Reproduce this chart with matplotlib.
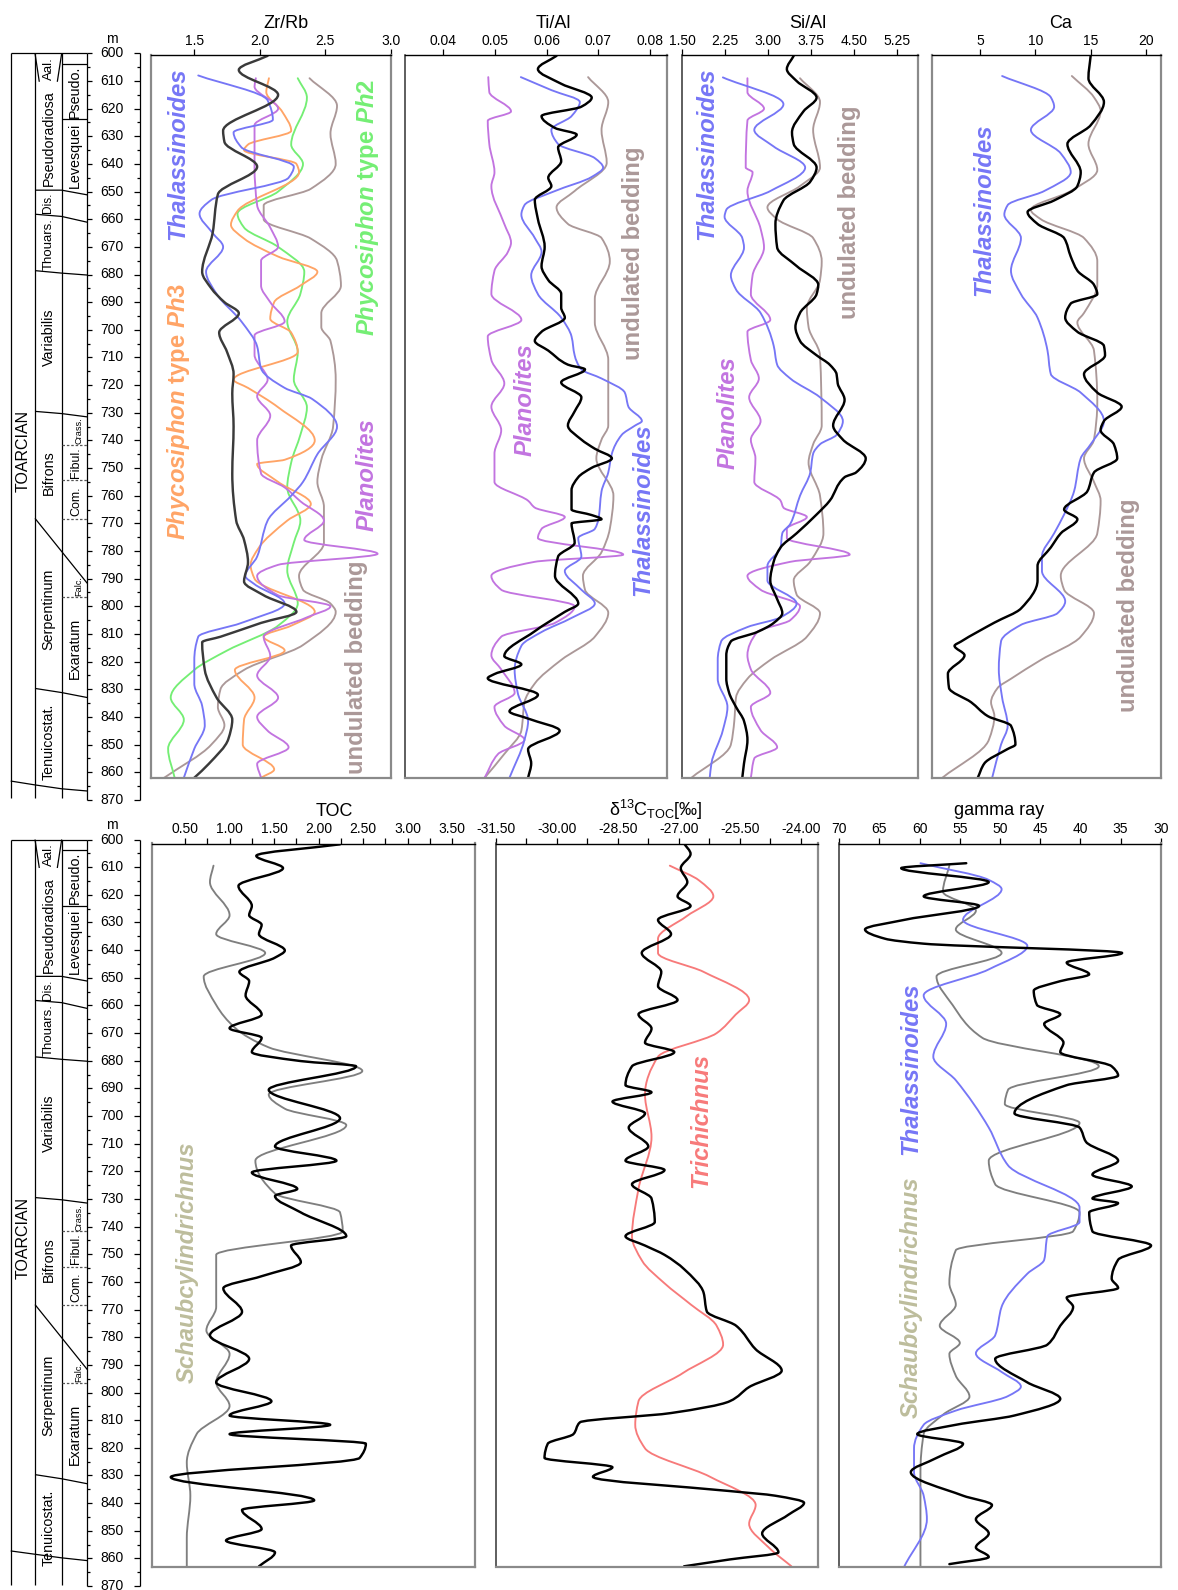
import matplotlib
matplotlib.use('Agg')
import matplotlib.pyplot as plt
from matplotlib.path import Path
from matplotlib.patches import PathPatch
import numpy as np

plt.rcParams['font.family'] = ['Liberation Sans', 'DejaVu Sans']
plt.rcParams['axes.unicode_minus'] = False
plt.rcParams['mathtext.fontset'] = 'custom'
plt.rcParams['mathtext.rm'] = 'Liberation Sans'
plt.rcParams['mathtext.it'] = 'Liberation Sans:italic:bold'
plt.rcParams['mathtext.bf'] = 'Liberation Sans:bold'
plt.rcParams['mathtext.default'] = 'regular'

# ---------------- stratigraphy ----------------
depth_ticks = list(range(600, 871, 10))
col2_names = ['Aal.', 'Pseudoradiosa', 'Dis.', 'Thouars.', 'Variabilis', 'Bifrons', 'Serpentinum', 'Tenuicostat.']
col2_mid = [605.4, 630.8, 654.2, 669.0, 702.6, 751.8, 801.0, 849.0]
col3_names = ['Pseudo.', 'Levesquei', 'Crass.', 'Fibul.', 'Com.', 'Falc.', 'Exaratum']
col3_mid = [613.8, 637.0, 736.6, 748.0, 762.0, 792.5, 815.1]
stage_name = 'TOARCIAN'
stage_mid = 744.0
bounds_solid = [[649.5, 649.5, 651.2], [658.2, 659.0, 661.1], [678.6, 679.5, 680.2],
                [729.5, 730.3, 731.5], [829.7, 831.2, 833.0]]
bounds_col3 = [603.9, 623.9]
bounds_dashed = [741.5, 754.5, 768.5, 796.5]
diag_bound = [768.2, 791.7]
bottom_top_row = [863.2, 864.6, 866.0, 866.8]
bottom_bot_row = [857.3, 858.5, 859.8, 860.8]

# ---------------- Zr/Rb ----------------
zr_core_d = [600.9, 606, 615, 628, 632, 641, 651, 665, 679, 685, 690, 694, 701, 708, 716, 723, 735, 752, 769, 776, 784, 791, 796, 802, 806, 811, 813, 823, 833, 841, 848, 857, 862]
zr_core_v = [2.06, 1.84, 2.14, 1.72, 1.73, 1.98, 1.68, 1.64, 1.56, 1.63, 1.73, 1.84, 1.69, 1.75, 1.80, 1.79, 1.80, 1.79, 1.82, 1.88, 1.91, 1.88, 2.03, 2.28, 2.01, 1.70, 1.56, 1.58, 1.67, 1.79, 1.76, 1.61, 1.50]
zr_thal_d = [608, 617, 624, 628.6, 634, 641, 645, 653, 658, 665, 670, 679, 687, 697, 706, 714, 721, 725, 735, 745, 755, 760, 769, 782, 789, 792, 799, 806, 811, 819.5, 828, 836, 843, 851.5, 862]
zr_thal_v = [1.53, 2.06, 2.10, 1.80, 1.86, 2.26, 2.22, 1.63, 1.54, 1.64, 1.72, 1.59, 1.67, 1.86, 1.98, 2.01, 2.19, 2.40, 2.59, 2.44, 2.33, 2.24, 2.06, 1.98, 1.89, 1.96, 2.19, 1.86, 1.53, 1.50, 1.50, 1.56, 1.58, 1.50, 1.42]
zr_ph3_d = [609, 614, 621, 628, 633, 635, 640, 643, 657, 662, 667, 673.5, 679, 684, 690, 696, 701, 708, 718, 721, 728, 740, 747, 748.5, 755, 763, 769, 779, 785, 790, 802, 807, 811, 816, 823, 833, 841, 850, 859, 862]
zr_ph3_v = [2.07, 2.05, 2.17, 2.24, 1.91, 1.88, 2.28, 2.30, 1.83, 1.78, 1.88, 2.14, 2.44, 2.31, 2.11, 2.08, 2.24, 2.29, 1.80, 1.91, 2.14, 2.42, 2.19, 1.98, 2.14, 2.39, 2.21, 1.99, 1.93, 1.96, 2.42, 2.24, 2.03, 2.19, 1.81, 1.96, 1.88, 1.87, 2.11, 2.01]
zr_ph2_d = [609, 616, 633, 640, 650, 658, 663, 670, 679, 687, 697, 708, 718, 728, 738, 748, 757, 769, 777, 787, 799, 807, 816, 823, 833, 841, 851.5, 862]
zr_ph2_v = [2.29, 2.36, 2.24, 2.33, 2.14, 1.83, 1.88, 2.14, 2.34, 2.31, 2.21, 2.29, 2.26, 2.36, 2.31, 2.24, 2.21, 2.31, 2.26, 2.21, 2.29, 2.14, 1.75, 1.50, 1.32, 1.42, 1.30, 1.35]
zr_plan_d = [609, 612, 620, 626, 641, 655, 663, 670, 675, 684, 690, 697, 702, 709, 718, 724, 731, 740, 752, 757, 762, 769, 776, 781, 785, 789, 796, 800, 804, 811, 818, 825, 833, 840, 845, 851, 857, 862]
zr_plan_v = [1.97, 1.96, 2.14, 1.96, 1.96, 1.98, 2.08, 2.14, 2.01, 2.01, 2.08, 2.19, 1.96, 1.96, 2.06, 1.98, 2.08, 1.98, 2.01, 2.19, 2.31, 2.49, 2.34, 2.90, 2.14, 1.98, 2.14, 2.54, 2.36, 2.03, 2.08, 1.98, 2.14, 1.98, 2.06, 2.22, 1.98, 2.01]
zr_und_d = [609, 619, 629, 640, 649, 655, 660, 667, 675, 684, 694, 699, 704, 718, 735, 747, 755, 764, 777, 789, 794, 799, 802, 814, 823, 830, 836.4, 843, 850, 862]
zr_und_v = [2.38, 2.59, 2.54, 2.58, 2.39, 2.03, 2.03, 2.39, 2.59, 2.62, 2.47, 2.47, 2.54, 2.58, 2.56, 2.47, 2.44, 2.49, 2.49, 2.30, 2.33, 2.54, 2.58, 2.33, 1.88, 1.70, 1.68, 1.73, 1.63, 1.27]

# ---------------- Ti/Al ----------------
ti_core_d = [600.9, 605.7, 611, 616, 619.3, 622.7, 627, 629.4, 634, 639, 645, 648, 653, 660, 670, 677, 682, 687, 692, 695.6, 700.7, 704, 707.5, 712.6, 714.3, 719, 724.4, 729.5, 734.6, 739.7, 743, 746.5, 749.9, 753.3, 758, 765, 767, 768.5, 770, 777, 782, 789, 799, 802, 809, 818, 821, 824.5, 826, 832, 838, 840.6, 845, 851.7, 856.8, 862]
ti_core_v = [0.0619, 0.0583, 0.0628, 0.0687, 0.0667, 0.0590, 0.0616, 0.0658, 0.0622, 0.0628, 0.0603, 0.0609, 0.0577, 0.0583, 0.0596, 0.0590, 0.0603, 0.0628, 0.0628, 0.0635, 0.0590, 0.0577, 0.0603, 0.0641, 0.0674, 0.0628, 0.0667, 0.0654, 0.0641, 0.0667, 0.0693, 0.0726, 0.0687, 0.0661, 0.0648, 0.0648, 0.0687, 0.0706, 0.0648, 0.0654, 0.0622, 0.0616, 0.0661, 0.0635, 0.0577, 0.0518, 0.0551, 0.0499, 0.0486, 0.0583, 0.0528, 0.0564, 0.0625, 0.0564, 0.0570, 0.0564]
ti_thal_d = [608.6, 613.3, 617.6, 622.7, 627.7, 632.8, 637.9, 641.3, 644.7, 649.8, 654.9, 658.3, 666.8, 671.8, 680.3, 687.1, 695.6, 702.4, 709.2, 714.3, 717.6, 722.7, 727.8, 733, 734.6, 738, 744.8, 751.6, 758.4, 768.5, 772, 775.3, 782, 787.2, 794, 799, 804.2, 809.3, 814.3, 823, 831.3, 841.5, 848.3, 862]
ti_thal_v = [0.0550, 0.0609, 0.0664, 0.0648, 0.0609, 0.0622, 0.0693, 0.0709, 0.0687, 0.0616, 0.0557, 0.0551, 0.0577, 0.0590, 0.0570, 0.0583, 0.0628, 0.0648, 0.0654, 0.0667, 0.0706, 0.0751, 0.0758, 0.0784, 0.0771, 0.0745, 0.0726, 0.0719, 0.0706, 0.0700, 0.0693, 0.0661, 0.0667, 0.0635, 0.0667, 0.0693, 0.0648, 0.0590, 0.0551, 0.0538, 0.0544, 0.0564, 0.0557, 0.0528]
ti_plan_d = [608.6, 614, 621, 624.4, 632.8, 643, 648, 661.7, 668.5, 671.8, 678.6, 687, 696.4, 702.4, 710.9, 719.4, 727.8, 736.3, 744.8, 755, 761.8, 764.3, 767.7, 772, 775.3, 781.3, 783.9, 789, 794, 800, 806, 811, 817.7, 822.8, 831.3, 836.4, 843.2, 848.3, 853.4, 862]
ti_plan_v = [0.0487, 0.0489, 0.0531, 0.0486, 0.0489, 0.0499, 0.0493, 0.0518, 0.0531, 0.0525, 0.0499, 0.0493, 0.0551, 0.0486, 0.0493, 0.0518, 0.0493, 0.0512, 0.0499, 0.0499, 0.0564, 0.0577, 0.0635, 0.0590, 0.0583, 0.0748, 0.0577, 0.0493, 0.0512, 0.0654, 0.0616, 0.0512, 0.0493, 0.0512, 0.0538, 0.0499, 0.0518, 0.0557, 0.0506, 0.0480]
ti_und_d = [608.6, 617.6, 627.7, 639.6, 649.8, 655.7, 661.7, 666.8, 675.2, 688.8, 697.3, 710.9, 734.6, 739.7, 746.5, 760, 772, 780.4, 789, 794, 802.3, 811, 819.4, 827.9, 834.7, 844.9, 853.4, 862]
ti_und_v = [0.0680, 0.0719, 0.0706, 0.0716, 0.0654, 0.0619, 0.0641, 0.0706, 0.0722, 0.0693, 0.0693, 0.0719, 0.0719, 0.0706, 0.0696, 0.0729, 0.0722, 0.0706, 0.0670, 0.0674, 0.0719, 0.0693, 0.0628, 0.0577, 0.0557, 0.0551, 0.0518, 0.0480]

# ---------------- Si/Al ----------------
si_core_d = [600.9, 605.7, 610, 616, 621, 628.6, 632.8, 641.3, 646.4, 653.2, 661.7, 670.2, 676.9, 683.7, 687.1, 693.9, 699, 704, 709.2, 712.6, 716, 719.4, 725.3, 734.6, 739.7, 746.5, 751.6, 753.3, 761.8, 766.8, 773.6, 778.7, 783.8, 790.6, 797.4, 802.5, 806, 809.3, 812.7, 817.7, 826.2, 831.3, 836.4, 841.5, 848.3, 856.8, 862]
si_core_v = [3.45, 3.33, 3.50, 3.85, 3.62, 3.42, 3.45, 3.85, 3.74, 3.27, 3.13, 3.16, 3.50, 3.88, 3.85, 3.56, 3.48, 3.56, 3.85, 4.08, 4.20, 4.22, 4.34, 4.14, 4.31, 4.71, 4.54, 4.34, 4.08, 3.85, 3.50, 3.22, 3.10, 3.04, 3.16, 3.25, 3.10, 2.81, 2.35, 2.27, 2.27, 2.32, 2.44, 2.58, 2.64, 2.58, 2.55]
si_thal_d = [608.7, 618.4, 627.7, 633.7, 641.3, 649.8, 656.6, 659.1, 666.8, 670.2, 680.3, 685.4, 693.9, 705.8, 712.6, 717.6, 724.4, 733, 738, 741.4, 744.8, 751.6, 760, 770.2, 773.6, 778.7, 785.4, 790.6, 799, 804, 807.5, 812.7, 819.4, 826.2, 836.4, 844.8, 856.8, 862]
si_thal_v = [2.21, 3.27, 2.76, 3.10, 3.65, 3.04, 2.27, 2.24, 2.55, 2.58, 2.35, 2.44, 2.87, 3.10, 3.16, 3.39, 3.91, 4.31, 4.20, 3.91, 3.79, 3.74, 3.56, 3.39, 3.25, 3.22, 2.99, 2.99, 3.50, 3.22, 2.64, 2.18, 2.12, 2.12, 2.29, 2.21, 2.01, 1.98]
si_plan_d = [609, 614, 620, 624.3, 641.3, 643, 649.8, 663.4, 670.2, 680.3, 687.1, 696.4, 700.7, 710.9, 717.6, 724.4, 733, 739.7, 746.5, 755, 761.8, 764.3, 767.7, 772, 775.3, 781.3, 783.9, 789, 794, 800, 805, 809.3, 817.7, 822.8, 831.3, 836.4, 844.8, 851, 855, 862]
si_plan_v = [2.64, 2.64, 2.93, 2.64, 2.61, 2.73, 2.64, 2.87, 2.93, 2.73, 2.70, 3.04, 2.64, 2.70, 2.84, 2.67, 2.87, 2.70, 2.78, 2.76, 3.22, 3.27, 3.68, 3.33, 3.33, 4.43, 3.39, 2.64, 2.87, 3.56, 3.39, 2.81, 2.64, 2.70, 3.04, 2.70, 2.87, 3.16, 2.76, 2.70]
si_und_d = [609, 617.6, 627.7, 641.3, 648, 655.7, 660, 666.8, 675.2, 682, 692.2, 699, 709.2, 734.6, 741.4, 748, 760, 773.6, 783.8, 790.6, 795.7, 802.5, 811, 819.4, 826.2, 833, 841.5, 850, 862]
si_und_v = [3.56, 3.91, 3.79, 3.91, 3.56, 2.99, 3.16, 3.79, 3.94, 3.91, 3.68, 3.71, 3.91, 3.94, 3.79, 3.71, 3.91, 3.97, 3.74, 3.45, 3.50, 3.91, 3.68, 3.04, 2.64, 2.44, 2.41, 2.35, 1.66]

# ---------------- Ca ----------------
ca_core_d = [600.9, 609, 617.6, 626, 632.8, 643, 648, 653.2, 657.4, 661.7, 666.8, 673.5, 678.6, 683.7, 687.1, 690.5, 695.6, 700.7, 705.8, 709.2, 716, 722.7, 727.8, 733, 736.3, 741.4, 746.5, 751.6, 758.4, 765, 768.5, 773.6, 778.7, 785.4, 790.6, 800.8, 805.9, 812.7, 814.3, 817.7, 824.4, 829.5, 834.7, 839.7, 843.2, 850, 851.6, 856.8, 862]
ca_core_v = [15.0, 14.8, 16.2, 15.0, 12.9, 14.1, 13.8, 11.7, 9.3, 10.2, 12.6, 13.2, 13.8, 15.3, 15.6, 13.2, 12.7, 13.8, 16.2, 16.3, 14.4, 15.6, 17.8, 16.2, 15.9, 17.1, 17.4, 15.3, 14.7, 12.6, 13.8, 12.3, 11.4, 10.2, 10.2, 8.7, 6.3, 3.3, 2.7, 3.6, 2.1, 2.2, 4.2, 5.7, 7.8, 8.2, 7.5, 5.4, 4.8]
ca_thal_d = [608.2, 615.9, 619.3, 627.7, 636.2, 643, 649.8, 654.9, 658.3, 666.8, 678.6, 687.1, 695.6, 707.5, 716, 722.7, 733, 741.4, 746.5, 758.4, 766.8, 773.6, 782, 787.2, 798.2, 802.5, 806.7, 812.7, 822.8, 833, 843.2, 850, 862]
ca_thal_v = [7.0, 11.4, 11.7, 9.6, 12.3, 13.2, 10.8, 7.5, 7.2, 8.7, 7.8, 8.7, 10.2, 11.1, 11.4, 14.1, 16.2, 15.0, 14.1, 13.5, 12.6, 11.7, 10.6, 10.6, 12.7, 12.0, 8.7, 6.9, 6.7, 7.0, 7.5, 6.9, 6.1]
ca_und_d = [608.2, 615.9, 620.9, 632.8, 642.2, 649.8, 656.6, 660, 666.8, 675.2, 683.7, 693.9, 697.3, 707.5, 726.1, 739.7, 746.5, 755, 761.8, 773.6, 788.9, 794, 802.5, 811, 819.4, 826.2, 829.5, 834.7, 839.7, 848.3, 862]
ca_und_v = [13.3, 15.3, 15.9, 14.8, 15.6, 13.2, 9.6, 10.5, 14.4, 15.6, 15.6, 14.4, 13.8, 15.3, 15.6, 15.3, 14.4, 15.3, 15.9, 15.6, 12.3, 12.6, 15.3, 14.1, 10.5, 7.8, 6.6, 6.0, 6.3, 5.8, 1.6]

# ---------------- TOC ----------------
toc_core_d = [601.8, 606, 610.5, 617, 624.3, 627.7, 631.2, 634.6, 640.6, 643.2, 648.4, 651.8, 657, 664, 669, 672.5, 677.7, 681, 682.9, 691.5, 701.9, 712.2, 717.4, 721.7, 727.7, 730.3, 736.3, 745, 748.4, 754.5, 759.6, 764, 772.6, 781.2, 789.8, 798.4, 805.3, 810.5, 813.9, 817.3, 820.8, 826, 833, 841.5, 845, 852, 856.2, 860.5, 865.6]
toc_core_v = [2.24, 1.30, 1.60, 1.10, 1.25, 1.22, 1.36, 1.33, 1.62, 1.51, 1.11, 1.22, 1.18, 1.36, 1.00, 1.36, 1.25, 1.80, 2.42, 1.44, 2.24, 1.51, 2.20, 1.25, 1.76, 1.51, 1.80, 2.31, 1.69, 1.80, 1.36, 0.93, 1.14, 0.78, 1.22, 0.85, 1.47, 1.00, 2.13, 1.00, 2.53, 2.46, 0.34, 1.95, 1.14, 1.36, 0.96, 1.51, 1.33]
toc_schau_d = [609.6, 615.6, 627.7, 634.6, 641.5, 650.1, 660.5, 669.1, 676, 684.6, 693.2, 698.4, 704.4, 717.4, 729.4, 736.3, 743.2, 751.8, 770.8, 779.4, 788, 798.4, 807, 817.3, 827.7, 839.8, 855.3, 865.6]
toc_schau_v = [0.82, 0.78, 1.00, 0.85, 1.40, 0.71, 0.85, 1.07, 1.44, 2.49, 1.44, 1.62, 2.31, 1.29, 1.51, 2.24, 2.27, 0.85, 0.85, 0.74, 1.00, 0.85, 1.00, 0.63, 0.52, 0.56, 0.52, 0.52]

# ---------------- d13C ----------------
d13_core_d = [601.5, 605.3, 610.5, 615.6, 620.8, 624.3, 629.4, 634.6, 641.5, 648.4, 653.6, 658.7, 663.9, 669.1, 674.3, 677.7, 682.9, 689.8, 692.4, 695.8, 700.1, 705.3, 712.2, 717.4, 720.8, 726, 731.2, 739.8, 745, 748.4, 751.8, 757, 765.6, 772.5, 777.7, 786.3, 794.1, 800.1, 805.3, 809.6, 813, 817.3, 820.8, 826, 829.4, 832.9, 838.1, 839.8, 842.4, 846.8, 853.6, 860.5, 863.1, 865.6]
d13_core_v = [-26.87, -26.71, -26.95, -26.79, -27.03, -26.71, -27.51, -27.19, -27.91, -27.43, -27.51, -27.03, -27.99, -27.67, -27.83, -27.11, -28.15, -28.31, -27.67, -28.63, -27.83, -28.23, -27.75, -28.31, -27.35, -28.15, -27.67, -27.59, -28.31, -27.83, -27.35, -26.87, -26.39, -26.31, -25.59, -25.11, -24.47, -25.27, -25.75, -27.19, -29.43, -29.59, -30.22, -30.30, -28.63, -29.11, -25.75, -24.63, -23.92, -24.31, -24.95, -24.55, -25.75, -26.87]
d13_trich_d = [609.6, 615, 620.8, 628, 636.3, 641.5, 648.4, 658.7, 664, 670.8, 679.4, 693.2, 708.7, 727.7, 745, 754, 762.2, 770, 777.7, 784.6, 795, 805.3, 813.9, 822.5, 832.9, 843.2, 850.1, 858.7, 865.6]
d13_trich_v = [-27.22, -26.50, -26.15, -26.80, -27.51, -27.51, -26.39, -25.27, -25.60, -26.07, -27.51, -27.83, -27.67, -27.99, -28.15, -27.90, -27.35, -26.70, -26.07, -25.91, -26.90, -27.99, -28.07, -27.83, -26.23, -25.11, -25.27, -24.79, -24.23]

# ---------------- gamma ray ----------------
gr_core_d = [608.7, 610.5, 615.6, 620.8, 624.3, 629.4, 632.9, 636.3, 638.1, 641.5, 645, 649.3, 651.8, 655.3, 660.5, 663.9, 667.4, 674.3, 677.7, 682.9, 686.3, 689.8, 700.1, 705.3, 710.5, 717.4, 722.5, 726.8, 731.2, 732.9, 736.3, 743.2, 748.4, 753.6, 760.5, 763.9, 767.4, 770.8, 777.7, 784.6, 789.8, 798.4, 804.4, 810.5, 813.9, 817.3, 820.8, 826, 831.2, 839.8, 843.2, 848.4, 853.6, 858.7, 862.2, 864.8]
gr_core_v = [54.2, 62.3, 51.4, 59.5, 52.6, 61.9, 66.8, 64.3, 59.5, 34.8, 41.7, 38.9, 42.5, 45.8, 45.4, 42.5, 44.5, 42.1, 42.5, 36.1, 35.3, 41.7, 48.2, 40.1, 39.3, 35.3, 38.5, 33.6, 38.5, 35.3, 38.9, 38.5, 31.2, 35.3, 36.1, 35.3, 41.7, 40.9, 42.5, 44.1, 50.6, 46.6, 42.5, 48.2, 55.5, 60.3, 54.6, 57.9, 61.1, 54.6, 51.0, 53.0, 51.4, 53.0, 51.4, 56.3]
gr_thal_d = [608.7, 614.8, 618.2, 629.4, 638.9, 647.5, 657, 667.4, 679.4, 688, 705.3, 719.1, 734.6, 739.8, 745, 753.6, 758.7, 770.8, 781.2, 787.8, 794.6, 799.9, 803.4, 808.7, 813.9, 822.5, 831.2, 839.8, 848.4, 865.6]
gr_thal_v = [59.9, 51.4, 49.8, 54.6, 46.6, 51.4, 59.5, 56.7, 58.3, 55.5, 51.4, 49.0, 40.1, 40.1, 44.1, 44.5, 46.6, 49.8, 50.6, 53.0, 49.8, 47.4, 49.0, 55.5, 59.5, 60.7, 60.7, 59.5, 59.1, 61.9]
gr_schau_d = [609.6, 619.1, 626, 632.9, 641.5, 650.1, 660.5, 672.5, 682.9, 691.5, 696.7, 703.6, 717.4, 726, 736.3, 743.2, 750.1, 762.2, 770, 777.7, 784, 788, 796, 803.6, 810, 817.3, 831.2, 865.6]
gr_schau_v = [56.3, 57.1, 53.0, 55.5, 49.8, 57.9, 55.9, 52.2, 37.7, 49.0, 49.4, 40.1, 51.4, 50.6, 40.1, 40.9, 55.5, 56.3, 55.5, 57.5, 55.0, 56.3, 55.5, 53.8, 57.0, 59.5, 59.9, 59.9]

# ---------------- styles ----------------
C_BLUE = '#7676f6'
C_ORANGE = '#ffa466'
C_GREEN = '#74ee74'
C_PURPLE = '#c274e0'
C_BROWN = '#ab9898'
C_GRAY = '#7f7f7f'
C_RED = '#f77a7a'
C_SCHAU_LBL = '#bdbd9c'
C_DARK = '#3a3a3a'
LW_K = 1.75
LW_C = 1.35
LBL_FS = 17.2

W, H = 1178, 1590
PXM = 2.765  # pixels per metre on depth columns
fig = plt.figure(figsize=(W / 100, H / 100), dpi=100)


def px_axes(x0, y0, x1, y1):
    return fig.add_axes([x0 / W, 1 - y1 / H, (x1 - x0) / W, (y1 - y0) / H])


def ftext(x, y, s, **kw):
    fig.text(x / W, 1 - y / H, s, **kw)


def smooth(ax, v, d, color, lw):
    """Draw the read points as a smooth, non-overshooting curve (monotone cubic as Bezier)."""
    v = np.asarray(v, float)
    d = np.asarray(d, float)
    h = np.diff(d)
    s = np.diff(v) / h
    m = np.empty_like(v)
    m[0], m[-1] = s[0], s[-1]
    for k in range(1, len(v) - 1):
        if s[k - 1] * s[k] <= 0:
            m[k] = 0.0
        else:
            w1 = 2 * h[k] + h[k - 1]
            w2 = h[k] + 2 * h[k - 1]
            m[k] = (w1 + w2) / (w1 / s[k - 1] + w2 / s[k])
    verts = [(v[0], d[0])]
    codes = [Path.MOVETO]
    for k in range(len(v) - 1):
        verts += [(v[k] + m[k] * h[k] / 3, d[k] + h[k] / 3),
                  (v[k + 1] - m[k + 1] * h[k] / 3, d[k + 1] - h[k] / 3),
                  (v[k + 1], d[k + 1])]
        codes += [Path.CURVE4] * 3
    ax.add_patch(PathPatch(Path(verts, codes), fill=False, edgecolor=color, lw=lw,
                           capstyle='round', joinstyle='round'))


def draw_column(y600, bottom_line):
    y870 = y600 + 270 * PXM
    ax = px_axes(0, y600, 150, y870)
    ax.set_xlim(0, 150)
    ax.set_ylim(870, 600)
    ax.axis('off')
    kw = dict(color='black', lw=0.9, clip_on=False, solid_capstyle='butt')
    xc = [10.7, 35.0, 61.7, 87.3]
    for x in xc[:3]:
        ax.plot([x, x], [600, 869.5], **kw)
    ax.plot([87.3, 87.3], [600, 870], **kw)
    ax.plot([140, 140], [600, 870], **kw)
    ax.plot([10.7, 87.3], [600, 600], **kw)
    for d in range(600, 871, 5):
        major = d % 10 == 0
        ax.plot([87.3, 87.3 + (5 if major else 3)], [d, d], **kw)
        ax.plot([140 - (6 if major else 3.3), 140], [d, d], **kw)
    for d in depth_ticks:
        ax.text(112, d, str(d), ha='center', va='center', fontsize=10, clip_on=False)
    ax.text(112, 594.9, 'm', ha='center', va='center', fontsize=10)
    ax.plot([35, 39.3], [600, 610.3], **kw)
    ax.plot([61.7, 57.3], [600, 610.3], **kw)
    for b in bounds_solid:
        ax.plot(xc[1:], b, **kw)
    for b in bounds_col3:
        ax.plot([61.7, 87.3], [b, b], **kw)
    for b in bounds_dashed:
        ax.plot([61.7, 87.3], [b, b], color='#555555', lw=0.9, ls=(0, (2, 1.5)))
    ax.plot([35, 87.3], diag_bound, **kw)
    ax.plot(xc, bottom_line, **kw)
    ax.text(22.8, stage_mid, stage_name, rotation=90, ha='center', va='center', fontsize=11.5)
    for n, m in zip(col2_names, col2_mid):
        fs = {'Dis.': 8.6, 'Thouars.': 9.5, 'Aal.': 9.5}.get(n, 10.3)
        ax.text(48.5, m, n, rotation=90, ha='center', va='center', fontsize=fs)
    for n, m in zip(col3_names, col3_mid):
        if n in ('Crass.', 'Falc.'):
            fs, xx = 6.6, 78.5
        elif n in ('Fibul.', 'Com.'):
            fs, xx = 9.0, 76.0
        else:
            fs, xx = 10.3, 74.8
        ax.text(xx, m, n, rotation=90, ha='center', va='center', fontsize=fs)
    return ax


def make_panel(x0, x1, y0, y1, xlim, ylim, major, minor, fmt, left_dark):
    ax = px_axes(x0, y0, x1, y1)
    ax.set_xlim(*xlim)
    ax.set_ylim(*ylim)
    ax.xaxis.tick_top()
    ax.set_xticks(major)
    ax.set_xticks(minor, minor=True)
    ax.set_xticklabels([fmt(t) for t in major])
    ax.tick_params(axis='x', which='both', direction='out', length=4.3, width=0.9,
                   pad=0.8, labelsize=10, top=True, bottom=False)
    ax.set_yticks([])
    ax.spines['top'].set_color('black')
    ax.spines['top'].set_linewidth(1.0)
    for s in ('left', 'right', 'bottom'):
        ax.spines[s].set_color('#8a8a8a')
        ax.spines[s].set_linewidth(1.6)
    if left_dark:
        ax.spines['left'].set_color('#333333')
        ax.spines['left'].set_linewidth(1.1)
    return ax


def lbl(ax, x, y, s, color, italic=True, fs=LBL_FS):
    ax.text(x, y, s, rotation=90, ha='center', va='center', fontsize=fs, color=color,
            fontweight='bold', fontstyle='italic' if italic else 'normal')


# ---------- top row ----------
T0, T1 = 55.0, 778.3
TOP_YLIM = (862.2, 600.6)
draw_column(53.3, bottom_top_row)

ax = make_panel(150.7, 390.7, T0, T1, (1.167, 3.0), TOP_YLIM, [1.5, 2.0, 2.5, 3.0], [],
                lambda t: f'{t:.1f}', False)
smooth(ax, zr_und_v, zr_und_d, C_BROWN, LW_C)
smooth(ax, zr_ph2_v, zr_ph2_d, C_GREEN, LW_C)
smooth(ax, zr_ph3_v, zr_ph3_d, C_ORANGE, LW_C)
smooth(ax, zr_plan_v, zr_plan_d, C_PURPLE, LW_C)
smooth(ax, zr_thal_v, zr_thal_d, C_BLUE, LW_C)
smooth(ax, zr_core_v, zr_core_d, C_DARK, LW_K)
lbl(ax, 1.376, 636.2, 'Thalassinoides', C_BLUE)
lbl(ax, 1.376, 729.4, r'$\mathit{Phycosiphon}$ type $\mathit{Ph}$3', C_ORANGE, italic=False)
lbl(ax, 2.826, 655.6, r'$\mathit{Phycosiphon}$ type $\mathit{Ph}$2', C_GREEN, italic=False)
lbl(ax, 2.816, 752.5, 'Planolites', C_PURPLE)
lbl(ax, 2.74, 822.0, 'undulated bedding', C_BROWN, italic=False)
ftext(286, 27.7, 'Zr/Rb', ha='center', va='baseline', fontsize=13)

ax = make_panel(405, 666.7, T0, T1, (0.0326, 0.0832), TOP_YLIM, [0.04, 0.05, 0.06, 0.07, 0.08], [],
                lambda t: f'{t:.2f}', True)
smooth(ax, ti_und_v, ti_und_d, C_BROWN, LW_C)
smooth(ax, ti_plan_v, ti_plan_d, C_PURPLE, LW_C)
smooth(ax, ti_thal_v, ti_thal_d, C_BLUE, LW_C)
smooth(ax, ti_core_v, ti_core_d, 'black', LW_K)
lbl(ax, 0.0558, 725.4, 'Planolites', C_PURPLE)
lbl(ax, 0.0767, 672.2, 'undulated bedding', C_BROWN, italic=False)
lbl(ax, 0.0786, 765.2, 'Thalassinoides', C_BLUE)
ftext(553, 27.7, 'Ti/Al', ha='center', va='baseline', fontsize=13)

ax = make_panel(682.3, 917.7, T0, T1, (1.5, 5.62), TOP_YLIM, [1.5, 2.25, 3.0, 3.75, 4.5, 5.25], [],
                lambda t: f'{t:.2f}', True)
smooth(ax, si_und_v, si_und_d, C_BROWN, LW_C)
smooth(ax, si_plan_v, si_plan_d, C_PURPLE, LW_C)
smooth(ax, si_thal_v, si_thal_d, C_BLUE, LW_C)
smooth(ax, si_core_v, si_core_d, 'black', LW_K)
lbl(ax, 1.927, 636.2, 'Thalassinoides', C_BLUE)
lbl(ax, 4.43, 657.4, 'undulated bedding', C_BROWN, italic=False)
lbl(ax, 2.30, 729.9, 'Planolites', C_PURPLE)
ftext(807.5, 27.7, 'Si/Al', ha='center', va='baseline', fontsize=13)

ax = make_panel(932.3, 1160.7, T0, T1, (0.69, 21.33), TOP_YLIM, [5, 10, 15, 20], [],
                lambda t: f'{t:d}', False)
smooth(ax, ca_und_v, ca_und_d, C_BROWN, LW_C)
smooth(ax, ca_thal_v, ca_thal_d, C_BLUE, LW_C)
smooth(ax, ca_core_v, ca_core_d, 'black', LW_K)
lbl(ax, 5.3, 656.5, 'Thalassinoides', C_BLUE)
lbl(ax, 18.41, 799.7, 'undulated bedding', C_BROWN, italic=False)
ftext(1060.5, 27.7, 'Ca', ha='center', va='baseline', fontsize=13)

# ---------- bottom row ----------
B0, B1 = 843.5, 1567.4
BOT_YLIM = (866.0, 601.5)
draw_column(839.5, bottom_bot_row)

ax = make_panel(151.5, 474.5, B0, B1, (0.124, 3.749), BOT_YLIM,
                [0.5, 1.0, 1.5, 2.0, 2.5, 3.0, 3.5], [0.75, 1.25, 1.75, 2.25, 2.75, 3.25],
                lambda t: f'{t:.2f}', False)
smooth(ax, toc_schau_v, toc_schau_d, C_GRAY, LW_C)
smooth(ax, toc_core_v, toc_core_d, 'black', LW_K)
lbl(ax, 0.525, 754.4, 'Schaubcylindrichnus', C_SCHAU_LBL)
ftext(334, 816, 'TOC', ha='center', va='baseline', fontsize=13)

ax = make_panel(495.7, 818.3, B0, B1, (-31.5, -23.57), BOT_YLIM,
                [-31.5, -30.0, -28.5, -27.0, -25.5, -24.0], [-30.75, -29.25, -27.75, -26.25, -24.75],
                lambda t: f'{t:.2f}', True)
smooth(ax, d13_trich_v, d13_trich_d, C_RED, LW_C)
smooth(ax, d13_core_v, d13_core_d, 'black', LW_K)
lbl(ax, -26.47, 702.7, 'Trichichnus', C_RED)
ftext(656, 816, r'$\delta^{13}$C$_{TOC}$[‰]', ha='center', va='baseline', fontsize=13)

ax = make_panel(839.3, 1160.7, B0, B1, (70, 30), BOT_YLIM,
                [70, 65, 60, 55, 50, 45, 40, 35, 30], [],
                lambda t: f'{t:d}', True)
smooth(ax, gr_schau_v, gr_schau_d, C_GRAY, LW_C)
smooth(ax, gr_thal_v, gr_thal_d, C_BLUE, LW_C)
smooth(ax, gr_core_v, gr_core_d, 'black', LW_K)
lbl(ax, 61.05, 683.8, 'Thalassinoides', C_BLUE)
lbl(ax, 61.05, 767.4, 'Schaubcylindrichnus', C_SCHAU_LBL)
ftext(999, 815, 'gamma ray', ha='center', va='baseline', fontsize=13)

fig.savefig('out.png', dpi=100)
